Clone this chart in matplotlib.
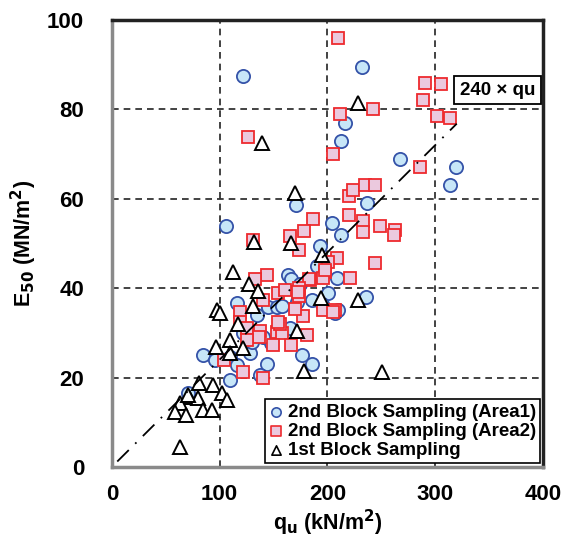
import matplotlib
matplotlib.use("Agg")
import matplotlib.pyplot as plt
import numpy as np

plt.rcParams['font.family'] = ['Liberation Sans', 'DejaVu Sans']
plt.rcParams['font.weight'] = 'bold'
plt.rcParams['mathtext.default'] = 'bf'

# 2nd Block Sampling (Area1)
qu_area1 = [122, 232, 216, 213, 267, 319, 314, 237, 171, 106, 204, 213, 193, 209, 201,
            186, 236, 207, 176, 186, 163, 166, 116, 135, 145, 153, 85, 96, 110, 116,
            110, 144, 137, 128, 148, 71, 175, 158, 122, 140, 195, 172, 130, 190, 165, 210]
e50_area1 = [87.5, 89.5, 77, 73, 69, 67, 63, 59, 58.5, 54, 54.5, 52, 49.5, 42.3, 39,
             37.4, 38, 34.5, 25, 23, 43, 42, 36.7, 34, 35.8, 35.8, 25, 24, 24.6, 22.8,
             19.5, 23, 20.5, 25.5, 27.7, 16.5, 41, 36, 30, 29, 36.5, 37, 28, 45, 31, 35]

# 2nd Block Sampling (Area2)
qu_area2 = [210, 290.5, 305, 289, 211.6, 242, 301.6, 313.7, 205, 286, 126, 220, 224, 235,
            244.5, 186.5, 178, 165, 220, 233, 233, 249, 263, 261.6, 244, 209, 200.5, 198,
            195.5, 184, 221, 196, 207, 177, 181, 131, 173.5, 144, 133, 183, 154, 160.5,
            173.5, 173.5, 140, 119, 170, 119, 125, 137, 153, 158, 149.5, 166, 136.7, 156,
            104, 121.6, 140, 125, 198, 172.6, 205.5, 154]
e50_area2 = [96, 86, 85.7, 82, 79, 80, 78.5, 78, 70, 67, 73.8, 60.6, 62, 63,
             63.1, 55.5, 52.8, 51.7, 56.4, 55, 52.6, 54, 53, 52, 45.6, 46.7, 45.9, 43.6,
             42.3, 41.8, 42.3, 35, 35, 33.8, 29.5, 50.8, 48.5, 43, 42, 42, 39, 39.5,
             40, 38.3, 37.4, 34.7, 35.3, 32.5, 31, 30.4, 30.2, 30, 27.3, 27.3, 29, 32,
             24, 21.3, 20, 28.4, 44, 39.2, 34.7, 32.4]

# 1st Block Sampling
qu_first = [228, 139, 170, 132, 166, 195, 112, 127, 135.5, 131, 98, 100, 117, 194, 171.5,
            109.5, 97, 121.6, 109.5, 178, 80.7, 93.7, 102, 106.7, 71.5, 80, 63, 58.5,
            68.7, 84.5, 92.8, 63, 250.5, 228, 70.5]
e50_first = [81.4, 72.5, 61.3, 50.4, 50, 47.4, 43.6, 41, 39.4, 36, 35, 34.4, 32, 37.8, 30.3,
             28.4, 26.8, 26.6, 25.5, 21.5, 18.8, 18.3, 16.5, 15, 15.6, 15.4, 14.3, 12.3,
             11.6, 12.8, 12.8, 4.5, 21.3, 37.4, 16]

# Reference relation E50 = 240 x qu (qu in kN/m2, E50 in MN/m2)
ratio = 240
qu_line = [5, 320]

fig = plt.figure(figsize=(5.65, 5.41), dpi=100)
ax = fig.add_axes([0.198, 0.137, 0.763, 0.826])

ms = 9.5
ax.plot(qu_area1, e50_area1, linestyle='none', marker='o', ms=ms,
        mfc='#c7e6f8', mec='#3452a8', mew=1.3, zorder=3)
ax.plot(qu_area2, e50_area2, linestyle='none', marker='s', ms=ms - 0.5,
        mfc='#ebc9de', mec='#ee2a2e', mew=1.3, zorder=4)
ax.plot(qu_first, e50_first, linestyle='none', marker='^', ms=ms + 0.5,
        mfc='white', mec='black', mew=1.4, zorder=5)

x = np.array(qu_line)
ax.plot(x, ratio * x / 1000.0, color='black', lw=1.3,
        linestyle=(0, (9, 5, 1, 5)), zorder=6)

ax.text(358, 84.3, '240 × qu', ha='center', va='center', fontsize=13.5,
        fontweight='bold', zorder=7,
        bbox=dict(boxstyle='square,pad=0.3', fc='white', ec='black', lw=1.3))

ax.set_xlim(0, 400)
ax.set_ylim(0, 100)
ax.set_xticks([0, 100, 200, 300, 400])
ax.set_yticks([0, 20, 40, 60, 80, 100])
ax.tick_params(length=0, labelsize=16)
ax.tick_params(axis='y', pad=20)
ax.tick_params(axis='x', pad=12)
for lab in ax.get_xticklabels() + ax.get_yticklabels():
    lab.set_fontweight('bold')

ax.grid(True, color='#222222', lw=1.2, linestyle=(0, (4, 3)), zorder=1)
ax.set_axisbelow(True)

for side in ['left', 'bottom']:
    ax.spines[side].set_color('#8a8a8a')
    ax.spines[side].set_linewidth(2.5)
for side in ['top', 'right']:
    ax.spines[side].set_color('#222222')
    ax.spines[side].set_linewidth(2.5)

ax.set_xlabel('q$_\\mathbf{u}$ (kN/m$^\\mathbf{2}$)', fontsize=15.5, fontweight='bold', labelpad=2)
ax.set_ylabel('E$_\\mathbf{50}$ (MN/m$^\\mathbf{2}$)', fontsize=15.5, fontweight='bold', labelpad=6)

h1 = ax.scatter([], [], marker='o', s=45, c='#c7e6f8', edgecolors='#3452a8', linewidths=1.2)
h2 = ax.scatter([], [], marker='s', s=45, c='#ebc9de', edgecolors='#ee2a2e', linewidths=1.2)
h3 = ax.scatter([], [], marker='^', s=45, c='white', edgecolors='black', linewidths=1.2)
leg = ax.legend([h1, h2, h3],
                ['2nd Block Sampling (Area1)', '2nd Block Sampling (Area2)', '1st Block Sampling'],
                loc='lower right', bbox_to_anchor=(0.994, 0.008), borderaxespad=0,
                fancybox=False, framealpha=1, edgecolor='black', handlelength=0.7,
                handletextpad=0.25, labelspacing=0.1, borderpad=0.25,
                prop={'weight': 'bold', 'size': 13.5})
leg.get_frame().set_linewidth(1.2)
leg.set_zorder(8)

fig.savefig('out.png', dpi=100)
